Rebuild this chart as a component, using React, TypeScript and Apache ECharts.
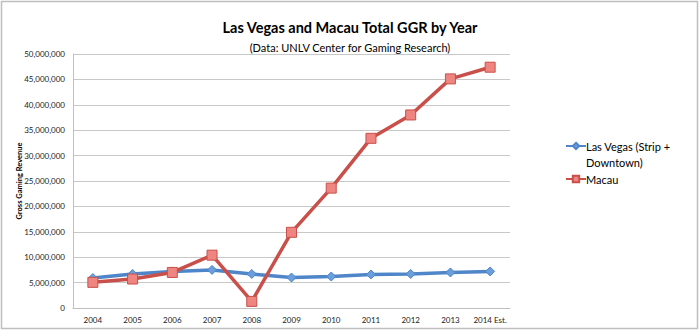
import React, { useEffect, useRef } from "react";
import * as echarts from "echarts";

const years = ["2004", "2005", "2006", "2007", "2008", "2009", "2010", "2011", "2012", "2013", "2014 Est."];
const lasVegas = [5900000, 6700000, 7200000, 7500000, 6700000, 6000000, 6200000, 6600000, 6700000, 7000000, 7200000];
const macau = [5050000, 5700000, 7000000, 10400000, 1300000, 14900000, 23600000, 33400000, 38000000, 45100000, 47400000];
const yTicks = { min: 0, max: 50000000, interval: 5000000 };
const seriesNames = ["Las Vegas (Strip + Downtown)", "Macau"];
const legendLabels: Record<string, string> = {
  "Las Vegas (Strip + Downtown)": "\nLas Vegas (Strip +\nDowntown)",
  Macau: "Macau",
};

const FONT = "Lato, 'Open Sans', sans-serif";

export default function App() {
  const ref = useRef<HTMLDivElement>(null);
  useEffect(() => {
    document.body.style.margin = "0";
    const chart = echarts.init(ref.current!, null, { renderer: "svg" });
    chart.setOption({
      animation: false,
      backgroundColor: "#ffffff",
      textStyle: { fontFamily: FONT },
      title: {
        text: "Las Vegas and Macau Total GGR by Year",
        subtext: "(Data: UNLV Center for Gaming Research)",
        left: "center",
        top: 15,
        itemGap: 7,
        textStyle: { fontFamily: FONT, fontSize: 14.5, fontWeight: "bold", color: "#000" },
        subtextStyle: { fontFamily: FONT, fontSize: 11, color: "#000" },
      },
      graphic: [
        {
          type: "rect",
          shape: { x: 1.5, y: 1.5, width: 696, height: 327 },
          style: { fill: "none", stroke: "#bfbfbf", lineWidth: 1.5 },
          silent: true,
        },
      ],
      legend: {
        orient: "vertical",
        left: 565,
        top: 122,
        padding: 0,
        itemWidth: 20,
        itemHeight: 8,
        itemGap: 1,
        formatter: (name: string) => legendLabels[name] ?? name,
        textStyle: {
          fontFamily: FONT,
          fontSize: 11,
          color: "#000",
          lineHeight: 16,
          padding: [0, 0, 0, -5],
        },
        data: seriesNames,
      },
      grid: { left: 73, right: 190, top: 54, bottom: 23, containLabel: false },
      xAxis: {
        type: "category",
        data: years,
        boundaryGap: true,
        axisLine: { lineStyle: { color: "#bfbfbf", width: 1 } },
        axisTick: { show: false },
        axisLabel: { fontFamily: FONT, fontSize: 8, color: "#222", margin: 8, interval: 0 },
      },
      yAxis: {
        type: "value",
        min: yTicks.min,
        max: yTicks.max,
        interval: yTicks.interval,
        name: "Gross Gaming Revenue",
        nameLocation: "middle",
        nameGap: 50,
        nameMoveOverlap: false,
        nameTextStyle: { fontFamily: FONT, fontSize: 7.5, fontWeight: "bold", color: "#000" },
        axisLine: { show: true, lineStyle: { color: "#bfbfbf", width: 1 } },
        axisTick: { show: false },
        splitLine: { lineStyle: { color: "#c8c8c8", width: 1 } },
        axisLabel: {
          fontFamily: FONT,
          fontSize: 8,
          color: "#222",
          margin: 8,
          formatter: (v: number) => v.toLocaleString("en-US"),
        },
      },
      series: [
        {
          name: seriesNames[0],
          type: "line",
          data: lasVegas,
          symbol: "diamond",
          symbolSize: 9,
          lineStyle: { color: "#4f86c9", width: 3.5 },
          itemStyle: { color: "#6a9fdc", borderColor: "#4f86c9", borderWidth: 1 },
          z: 2,
        },
        {
          name: seriesNames[1],
          type: "line",
          data: macau,
          symbol: "rect",
          symbolSize: 10,
          lineStyle: { color: "#c9504a", width: 3.5 },
          itemStyle: { color: "#ee8580", borderColor: "#c9504a", borderWidth: 1 },
          z: 3,
        },
      ],
    });
    return () => chart.dispose();
  }, []);
  return <div ref={ref} style={{ width: 700, height: 331 }} />;
}
